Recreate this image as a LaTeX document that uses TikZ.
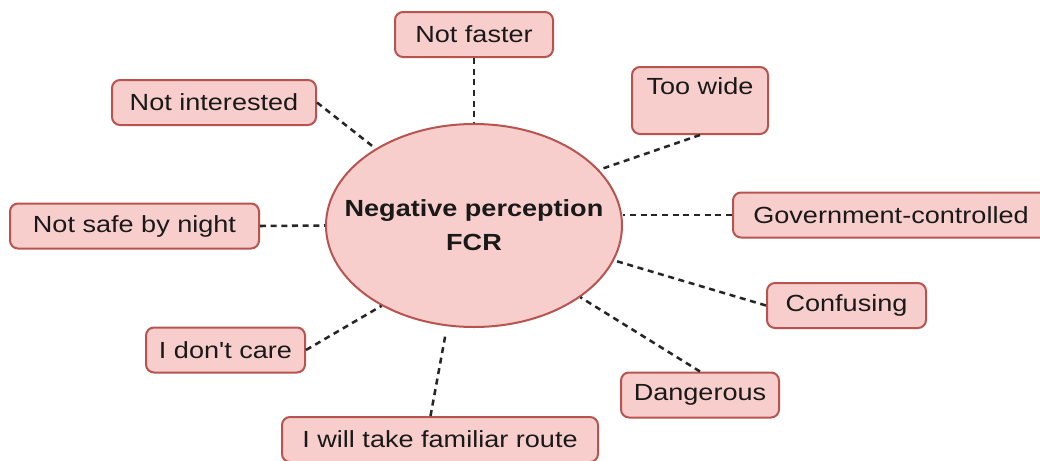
\documentclass[tikz,border=0pt]{standalone}
\usepackage{fontspec}
\setmainfont{Liberation Sans}[FakeStretch=1.16, Ligatures=TeXOff]
\usetikzlibrary{shapes.geometric}
\definecolor{boxfill}{HTML}{F8CECC}
\definecolor{boxline}{HTML}{B85450}
\tikzset{
    cause/.style={draw=boxline, fill=boxfill, line width=1.5pt, rounded corners=6pt,
        minimum height=33.75pt, minimum width=#1, inner sep=0pt,
        text=black!90, font=\fontsize{17.5}{21}\selectfont},
    hub/.style={ellipse, draw=boxline, fill=boxfill, line width=1.5pt,
        minimum width=222pt, minimum height=152.25pt, inner sep=0pt},
    hubtext/.style={align=center, inner sep=0pt, text=black!90,
        font=\fontsize{17.5}{25.5}\selectfont\bfseries},
    link/.style={dash pattern=on 4.5pt off 3.5pt, line width=1.9pt, black!85},
}
\begin{document}
\begin{tikzpicture}[x=0.75pt, y=-0.75pt]
    \useasboundingbox (0,0) rectangle (1040,461);
    % centre
    \node[hub] (ell) at (474,225.5) {};
    \node[hubtext] (lbl) at (ell.center) {Negative perception\\FCR};
    % reasons
    \node[cause=118.5pt] (nf) at (474,34.5) {Not faster};
    \node[cause=102pt, minimum height=50.25pt, align=center] (tw) at (700,100.5) {Too wide\\[0pt]\mbox{}};
    \node[cause=153pt] (ni) at (214,102.5) {Not interested};
    \node[cause=237pt] (gov) at (891,215) {Government-controlled};
    \node[cause=186.75pt] (nsn) at (134.5,226) {Not safe by night};
    \node[cause=119.25pt] (conf) at (846.5,305.5) {Confusing};
    \node[cause=119.25pt] (idc) at (225.5,350) {I don't care};
    \node[cause=118.5pt] (dang) at (700,395) {Dangerous};
    \node[cause=237pt] (ifr) at (440,439.5) {I will take familiar route};
    % links
    \draw[link] (nf.south) -- (ell.north);
    \draw[link] (tw.south) -- (ell.24);
    \draw[link] (ni.east) -- (ell.142);
    \draw[link] (gov.west) -- (gov.west -| ell.east);
    \draw[link] (nsn.east) -- (ell.west);
    \draw[link] (conf.west) -- (ell.-14);
    \draw[link] (idc.east) -- (ell.-139);
    \draw[link] (dang.north) -- (ell.-34);
    \draw[link, shorten >=6pt] (ifr.112) -- (ell.-105);
\end{tikzpicture}
\end{document}
